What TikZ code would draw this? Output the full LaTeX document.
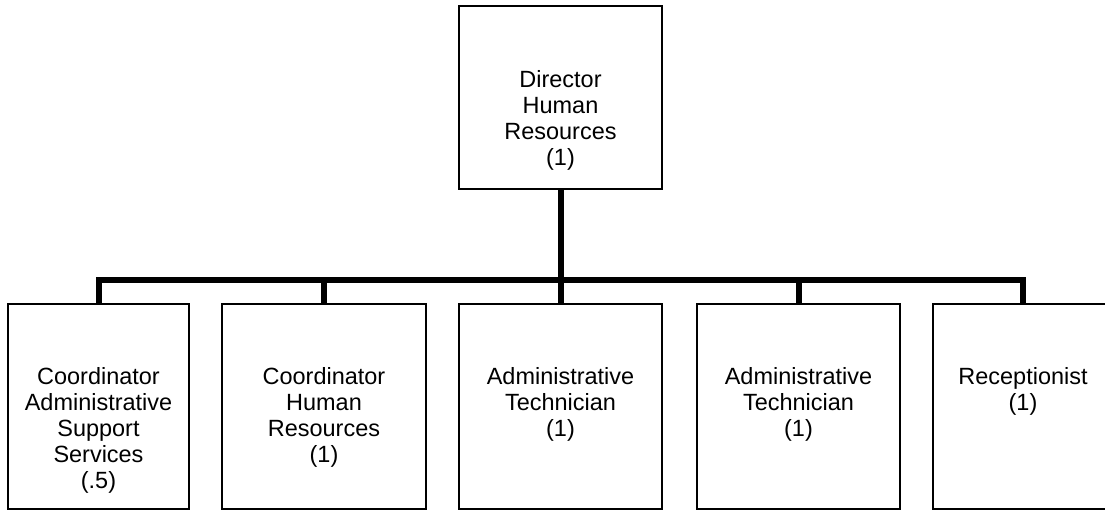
\documentclass[tikz,border=0pt]{standalone}
\usepackage{fontspec}
\setmainfont{Liberation Sans}
\begin{document}
\begin{tikzpicture}[x=0.75pt,y=-0.75pt,
  posbox/.style={draw=black, line width=1.1pt, rectangle, inner sep=0pt,
                 minimum height=153.75pt},
  lbl/.style={font=\fontsize{17.6pt}{19.6pt}\selectfont, align=center,
              anchor=north, inner sep=0pt},
  link/.style={draw=black, line width=4.5pt, line join=miter}]
  \clip (0,0) rectangle (1105,510);
  \fill[white] (0,0) rectangle (1105,510);

  % head of the unit
  \node[posbox, minimum width=152.25pt, minimum height=137.25pt] (dir) at (560.5,97.5) {};
  \node[lbl] (tdir) at (560.5,70) {Director\\Human\\Resources\\(1)};

  % staff positions
  \node[posbox, minimum width=135.75pt] (b1) at (98.5,406.5) {};
  \node[posbox, minimum width=153pt]    (b2) at (324,406.5) {};
  \node[posbox, minimum width=152.25pt] (b3) at (560.5,406.5) {};
  \node[posbox, minimum width=152.25pt] (b4) at (798.5,406.5) {};
  \node[posbox, minimum width=135pt]    (b5) at (1023,406.5) {};

  \node[lbl] (t1) at (98.5,367) {Coordinator\\Administrative\\Support\\Services\\(.5)};
  \node[lbl] (t2) at (324,367) {Coordinator\\Human\\Resources\\(1)};
  \node[lbl] (t3) at (560.5,367) {Administrative\\Technician\\(1)};
  \node[lbl] (t4) at (798.5,367) {Administrative\\Technician\\(1)};
  \node[lbl] (t5) at (1023,367) {Receptionist\\(1)};

  % reporting lines
  \coordinate (bus) at (560.5,280);
  \draw[link] (dir.south) -- (b3.north);
  \draw[link] (b1.north) -- (b1.north |- bus) -- (b5.north |- bus) -- (b5.north);
  \draw[link] (b2.north |- bus) -- (b2.north);
  \draw[link] (b4.north |- bus) -- (b4.north);
\end{tikzpicture}
\end{document}
